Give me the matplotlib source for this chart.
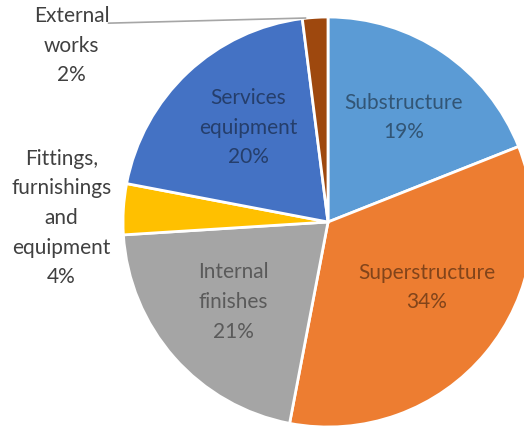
import matplotlib.pyplot as plt

categories = ["Substructure", "Superstructure", "Internal\nfinishes",
              "Fittings,\nfurnishings\nand\nequipment", "Services\nequipment",
              "External\nworks"]
shares = [19, 34, 21, 4, 20, 2]
colors = ["#5B9BD5", "#ED7D31", "#A5A5A5", "#FFC000", "#4472C4", "#9E480E"]

# label spots (pie radius units), inside slices then the two outside ones
label_xy = [(0.37, 0.51), (0.48, -0.32), (-0.46, -0.39),
            (-1.30, 0.02), (-0.39, 0.46), (-1.25, 0.86)]

fig = plt.figure(figsize=(5.24, 4.30), dpi=100)
cx, cy, r = 328, 222, 205
ax = fig.add_axes([(cx - r) / 524, (430 - cy - r) / 430, 2 * r / 524, 2 * r / 430])

ax.pie(shares, colors=colors, startangle=90, counterclock=False, radius=1,
       wedgeprops=dict(edgecolor="white", linewidth=2), frame=True)
ax.set_xlim(-1, 1)
ax.set_ylim(-1, 1)
ax.set_aspect("equal")
ax.axis("off")

for i, (name, val) in enumerate(zip(categories, shares)):
    x, y = label_xy[i]
    outside = i in (3, 5)
    ax.text(x, y, f"{name}\n{val}%", ha="center", va="center",
            fontsize=15, family="Lato", linespacing=1.6,
            color="#404040" if outside else "black",
            alpha=1.0 if outside else 0.45, clip_on=False)

# leader line for the small slice
ax.plot([-1.07, -0.11], [0.97, 0.995], color="#A6A6A6", linewidth=1.2,
        clip_on=False)

fig.savefig("out.png", dpi=100)
